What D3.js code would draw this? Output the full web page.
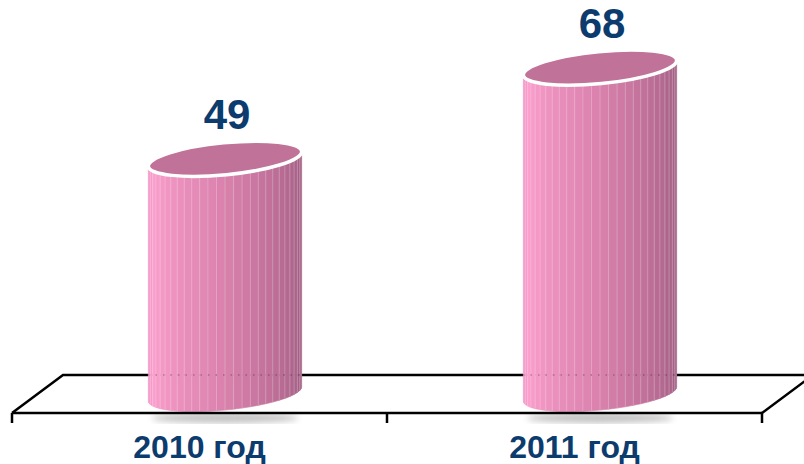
<!DOCTYPE html>
<html>
<head>
<meta charset="utf-8">
<script src="https://cdn.jsdelivr.net/npm/d3@7"></script>
<style>
  html, body { margin: 0; padding: 0; background: #fff; }
  svg { display: block; }
  text { font-family: "Liberation Sans", Arial, sans-serif; font-weight: bold; fill: #0c3b6e; }
</style>
</head>
<body>
<svg id="chart" width="804" height="464"></svg>
<script>
  // chart data
  var categories = ['2010 год', '2011 год'];
  var values = [49, 68];

  var svg = d3.select('#chart'),
      floorFront = 413,
      depth = {dx: 51, dy: -38},
      baseY = floorFront + depth.dy / 2;

  var x = d3.scaleBand()
      .domain(categories)
      .range([12, 762]);

  var y = d3.scaleLinear()
      .domain([0, 80])
      .range([baseY, 10]);

  // cylinder shape
  var rx = 77, ry = 16,
      phi = -5.6 * Math.PI / 180,
      cosP = Math.cos(phi), sinP = Math.sin(phi),
      facets = 28;

  var sideColor = d3.scaleLinear()
      .domain([0, 0.12, 0.5, 1])
      .range(['#ec8dbf', '#fb9ecd', '#d981ac', '#9b597e']);

  function pt(cx, cy, th) {
    return [
      cx + rx * Math.cos(th) * cosP - ry * Math.sin(th) * sinP,
      cy + rx * Math.cos(th) * sinP + ry * Math.sin(th) * cosP
    ];
  }

  // floor, back part
  var floor = svg.append('g').attr('class', 'floor')
      .attr('fill', 'none')
      .attr('stroke', '#000')
      .attr('stroke-width', 2.5);

  var x0 = x.range()[0], x1 = x.range()[1];
  floor.append('path')
      .attr('d', 'M' + x0 + ',' + floorFront +
                 'L' + (x0 + depth.dx) + ',' + (floorFront + depth.dy) +
                 'L' + (x1 + depth.dx) + ',' + (floorFront + depth.dy) +
                 'L' + x1 + ',' + floorFront);

  // shadows
  svg.append('defs').append('filter')
      .attr('id', 'blur')
      .append('feGaussianBlur')
      .attr('stdDeviation', 3);

  svg.append('g').selectAll('ellipse')
      .data(values)
      .enter()
      .append('ellipse')
      .attr('cx', function (d, i) { return x(categories[i]) + x.bandwidth() / 2 + depth.dx / 2; })
      .attr('cy', floorFront + 5)
      .attr('rx', rx * 0.95)
      .attr('ry', 5)
      .attr('fill', '#777')
      .attr('opacity', 0.45)
      .attr('filter', 'url(#blur)');

  // cylinders
  var theta0 = Math.atan2(-ry * sinP, rx * cosP);

  var cyl = svg.append('g').attr('class', 'cylinders')
      .selectAll('g')
      .data(values)
      .enter()
      .append('g');

  cyl.each(function (v, i) {
    var g = d3.select(this),
        cx = x(categories[i]) + x.bandwidth() / 2 + depth.dx / 2,
        top = y(v),
        bottom = y(0);

    var angles = d3.range(facets + 1).map(function (k) {
      return theta0 + Math.PI - k * Math.PI / facets;
    });

    var quads = d3.range(facets).map(function (k) {
      var a = angles[k], b = angles[k + 1];
      return {
        k: k,
        pts: [pt(cx, top, a), pt(cx, top, b), pt(cx, bottom, b), pt(cx, bottom, a)]
      };
    });

    g.selectAll('path.facet')
        .data(quads)
        .enter()
        .append('path')
        .attr('class', 'facet')
        .attr('d', function (q) { return 'M' + q.pts.join('L') + 'Z'; })
        .attr('fill', function (q) { return sideColor((q.k + 0.5) / facets); })
        .attr('stroke', function (q) { return sideColor((q.k + 0.5) / facets); })
        .attr('stroke-width', 0.6);

    // facet edges
    g.selectAll('line.edge')
        .data(angles.slice(1, -1))
        .enter()
        .append('line')
        .attr('class', 'edge')
        .attr('x1', function (a) { return pt(cx, top, a)[0]; })
        .attr('y1', function (a) { return pt(cx, top, a)[1]; })
        .attr('x2', function (a) { return pt(cx, bottom, a)[0]; })
        .attr('y2', function (a) { return pt(cx, bottom, a)[1]; })
        .attr('stroke', '#fff')
        .attr('stroke-opacity', 0.3)
        .attr('stroke-width', 0.8);

    // back floor line showing through
    g.append('line')
        .attr('x1', cx - rx)
        .attr('x2', cx + rx)
        .attr('y1', floorFront + depth.dy)
        .attr('y2', floorFront + depth.dy)
        .attr('stroke', '#000')
        .attr('stroke-opacity', 0.25)
        .attr('stroke-width', 1.5)
        .attr('stroke-dasharray', '1.5 6');

    // top face
    g.append('ellipse')
        .attr('cx', cx)
        .attr('cy', top)
        .attr('rx', rx)
        .attr('ry', ry)
        .attr('transform', 'rotate(' + (phi * 180 / Math.PI) + ',' + cx + ',' + top + ')')
        .attr('fill', '#c07298')
        .attr('stroke', '#fff')
        .attr('stroke-width', 3.5);

    // value label
    g.append('text')
        .attr('x', cx + 2)
        .attr('y', top - 30)
        .attr('text-anchor', 'middle')
        .style('font-size', '42px')
        .text(v);
  });

  // floor, front line and ticks
  var front = svg.append('g')
      .attr('stroke', '#000')
      .attr('stroke-width', 2.5)
      .attr('fill', 'none');

  front.append('line')
      .attr('x1', x0).attr('x2', x1)
      .attr('y1', floorFront).attr('y2', floorFront);

  var ticks = categories.map(function (c) { return x(c); }).concat([x1]);
  front.selectAll('line.tick')
      .data(ticks)
      .enter()
      .append('line')
      .attr('class', 'tick')
      .attr('x1', function (d) { return d; })
      .attr('x2', function (d) { return d; })
      .attr('y1', floorFront)
      .attr('y2', floorFront + 10);

  // category labels
  svg.append('g').selectAll('text')
      .data(categories)
      .enter()
      .append('text')
      .attr('x', function (d) { return x(d) + x.bandwidth() / 2; })
      .attr('y', 458)
      .attr('text-anchor', 'middle')
      .style('font-size', '32px')
      .text(function (d) { return d; });
</script>
</body>
</html>
